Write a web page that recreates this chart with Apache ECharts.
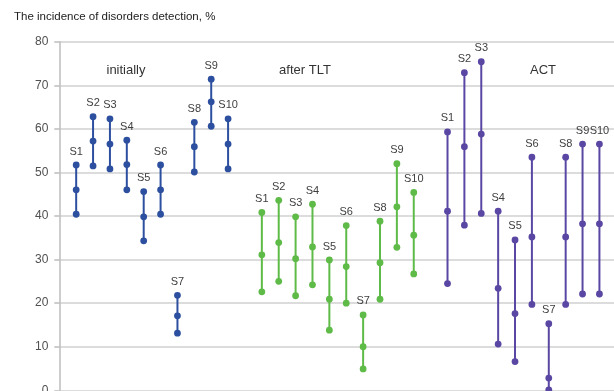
<!DOCTYPE html>
<html>
<head>
<meta charset="utf-8">
<script src="https://cdn.jsdelivr.net/npm/echarts@6/dist/echarts.min.js"></script>
<style>
  html, body { margin: 0; padding: 0; background: #ffffff; }
  #chart { width: 614px; height: 391px; }
</style>
</head>
<body>
<div id="chart"></div>
<script>
// Stick names, shared by all three stages
const stickLabels = ['S1', 'S2', 'S3', 'S4', 'S5', 'S6', 'S7', 'S8', 'S9', 'S10'];

// Detection incidence, % — each entry is [low, mid, high]
const initially = [
  [40.4, 46.0, 51.7],
  [51.5, 57.2, 62.8],
  [50.8, 56.5, 62.3],
  [46.0, 51.8, 57.4],
  [34.3, 39.8, 45.6],
  [40.4, 46.0, 51.7],
  [13.1, 17.1, 21.8],
  [50.1, 55.9, 61.5],
  [60.6, 66.2, 71.4],
  [50.8, 56.5, 62.3]
];
const afterTLT = [
  [22.6, 31.1, 40.8],
  [25.0, 33.9, 43.6],
  [21.7, 30.2, 39.8],
  [24.2, 32.9, 42.7],
  [13.8, 20.9, 29.9],
  [20.0, 28.4, 37.8],
  [4.9, 10.0, 17.3],
  [20.9, 29.3, 38.8],
  [32.8, 42.1, 52.0],
  [26.7, 35.6, 45.4]
];
const act = [
  [24.5, 41.1, 59.3],
  [37.9, 55.9, 72.9],
  [40.6, 58.8, 75.4],
  [10.6, 23.4, 41.1],
  [6.6, 17.6, 34.5],
  [19.7, 35.2, 53.5],
  [0.1, 2.8, 15.3],
  [19.7, 35.2, 53.5],
  [22.1, 38.2, 56.5],
  [22.1, 38.2, 56.5]
];

const groupNames = ['initially', 'after TLT', 'ACT'];
const groupColors = ['#2d4f9f', '#5fbb48', '#5a47a3'];
const groups = [initially, afterTLT, act];

// Each stage occupies 10 slots, with one empty slot between stages
function toRows(values, g) {
  return values.map((v, i) => [g * 11 + i + 1, v[0], v[1], v[2], i]);
}

function stickRenderer(color) {
  return function (params, api) {
    const x = api.value(0);
    const lo = api.coord([x, api.value(1)]);
    const mid = api.coord([x, api.value(2)]);
    const hi = api.coord([x, api.value(3)]);
    const r = 3.4;
    const dot = p => ({ type: 'circle', shape: { cx: p[0], cy: p[1], r: r }, style: { fill: color } });
    return {
      type: 'group',
      children: [
        { type: 'line', shape: { x1: lo[0], y1: lo[1], x2: hi[0], y2: hi[1] }, style: { stroke: color, lineWidth: 2 } },
        dot(lo), dot(mid), dot(hi),
        {
          type: 'text', x: hi[0], y: hi[1] - 8,
          style: {
            text: stickLabels[api.value(4)],
            textAlign: 'center', textVerticalAlign: 'bottom',
            font: '11px "Liberation Sans", Arial, sans-serif',
            fill: '#404040'
          }
        }
      ]
    };
  };
}

const chart = echarts.init(document.getElementById('chart'), null, { renderer: 'canvas' });

chart.setOption({
  backgroundColor: '#ffffff',
  animation: false,
  title: {
    text: 'The incidence of disorders detection, %',
    left: 9, top: 6,
    textStyle: { fontSize: 11.5, fontWeight: 'normal', color: '#222222', fontFamily: '"Liberation Sans", Arial, sans-serif' }
  },
  grid: { left: 59.3, right: -2.3, top: 41.7, bottom: 0.7, containLabel: false, outerBoundsMode: 'none' },
  xAxis: { type: 'value', min: 0, max: 33, show: false },
  yAxis: {
    type: 'value', min: 0, max: 80, interval: 10,
    axisLine: { show: true, lineStyle: { color: '#bdbdbd', width: 1.5 } },
    axisTick: { show: true, length: 5, lineStyle: { color: '#bdbdbd', width: 1.5 } },
    axisLabel: { color: '#505050', fontSize: 12, margin: 11, verticalAlign: 'middle', fontFamily: '"Liberation Sans", Arial, sans-serif' },
    splitLine: { lineStyle: { color: '#d0d0d0', width: 1.5 } }
  },
  graphic: [
    { type: 'text', x: 126, y: 70, style: { text: groupNames[0], textAlign: 'center', textVerticalAlign: 'middle', font: '13px "Liberation Sans", Arial, sans-serif', fill: '#333333' } },
    { type: 'text', x: 305, y: 70, style: { text: groupNames[1], textAlign: 'center', textVerticalAlign: 'middle', font: '13px "Liberation Sans", Arial, sans-serif', fill: '#333333' } },
    { type: 'text', x: 543, y: 70, style: { text: groupNames[2], textAlign: 'center', textVerticalAlign: 'middle', font: '13px "Liberation Sans", Arial, sans-serif', fill: '#333333' } }
  ],
  series: groups.map((values, g) => ({
    type: 'custom',
    name: groupNames[g],
    renderItem: stickRenderer(groupColors[g]),
    encode: { x: 0, y: [1, 2, 3] },
    clip: false,
    data: toRows(values, g)
  }))
});
</script>
</body>
</html>
